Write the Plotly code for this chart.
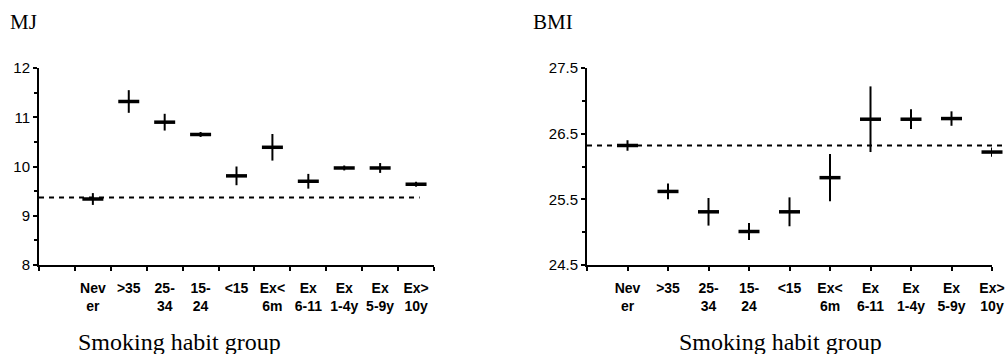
import plotly.graph_objects as go

# Smoking habit groups (shared by both panels)
groups = ["Nev<br>er", ">35", "25-<br>34", "15-<br>24", "<15", "Ex<<br>6m",
          "Ex<br>6-11", "Ex<br>1-4y", "Ex<br>5-9y", "Ex><br>10y"]

# Energy intake (MJ): mean and half-width of the interval
mj_mean = [9.34, 11.32, 10.90, 10.65, 9.81, 10.39, 9.70, 9.97, 9.97, 9.64]
mj_err = [0.12, 0.23, 0.17, 0.05, 0.19, 0.27, 0.15, 0.05, 0.10, 0.05]
mj_ref = 9.37

# Body mass index: mean and half-width of the interval
bmi_mean = [26.32, 25.62, 25.31, 25.01, 25.31, 25.83, 26.72, 26.72, 26.73, 26.22]
bmi_err = [0.08, 0.12, 0.21, 0.13, 0.22, 0.36, 0.50, 0.15, 0.11, 0.07]
bmi_ref = 26.32

pos = list(range(1, len(groups) + 1))

fig = go.Figure()

def add_panel(mean, err, xa, ya):
    fig.add_trace(go.Scatter(
        x=pos, y=mean, mode="markers", xaxis=xa, yaxis=ya, cliponaxis=False,
        marker=dict(symbol="line-ew", size=15, color="black",
                    line=dict(color="black", width=3.5)),
        error_y=dict(type="data", array=err, visible=True,
                     color="black", thickness=2, width=0),
        showlegend=False, hoverinfo="skip"))

add_panel(mj_mean, mj_err, "x", "y")
add_panel(bmi_mean, bmi_err, "x2", "y2")

y_dom = [(354 - 265) / 354, (354 - 68) / 354]
tick_font = dict(family="Arial, Liberation Sans", size=15, color="black")
lab_font = dict(family="Arial, Liberation Sans", size=14, color="black")
bold = ["<b>" + g + "</b>" for g in groups]

common = dict(showline=True, linecolor="black", linewidth=2, showgrid=False,
              zeroline=False, fixedrange=True, automargin=False)

fig.update_layout(
    width=1007, height=354,
    margin=dict(l=0, r=0, t=0, b=0),
    paper_bgcolor="white", plot_bgcolor="white",
    # Left panel: groups sit between the tick marks
    xaxis=dict(domain=[39 / 1007, 434 / 1007], range=[-0.5, 10.5],
               tickvals=pos, ticktext=bold, ticks="", tickfont=lab_font,
               ticklabelstandoff=9,
               minor=dict(tick0=0.5, dtick=1, ticks="outside", ticklen=4,
                          tickcolor="black", tickwidth=1.5),
               **common),
    yaxis=dict(domain=y_dom, range=[8, 12], dtick=1, tickfont=tick_font,
               ticks="outside", ticklen=4, tickwidth=1.5, tickcolor="black",
               minor=dict(dtick=0.5, ticks="outside", ticklen=3,
                          tickcolor="black", tickwidth=1.5),
               **common),
    # Right panel: groups sit on the tick marks
    xaxis2=dict(domain=[587 / 1007, 992 / 1007], range=[0, 10],
                tickvals=[0] + pos, ticktext=[""] + bold, tickfont=lab_font,
                ticks="outside", ticklen=4, tickwidth=1.5, tickcolor="black",
                ticklabelstandoff=5, anchor="y2", **common),
    yaxis2=dict(domain=y_dom, range=[24.5, 27.5], dtick=1, tick0=24.5,
                tickformat=".1f", tickfont=tick_font,
                ticks="outside", ticklen=4, tickwidth=1.5, tickcolor="black",
                minor=dict(dtick=0.5, tick0=24.5, ticks="outside", ticklen=3,
                           tickcolor="black", tickwidth=1.5),
                anchor="x2", **common),
)

# Reference levels (never smokers)
fig.add_shape(type="line", xref="x", yref="y", x0=-0.5, x1=10.1,
              y0=mj_ref, y1=mj_ref,
              line=dict(color="black", width=2, dash="5px,5px"))
fig.add_shape(type="line", xref="paper", yref="y2", x0=587 / 1007, x1=1005 / 1007,
              y0=bmi_ref, y1=bmi_ref,
              line=dict(color="black", width=2, dash="5px,5px"))

serif = dict(family="Times New Roman, Liberation Serif", size=21, color="black")
serif_big = dict(family="Times New Roman, Liberation Serif", size=24, color="black")
fig.add_annotation(text="MJ", xref="paper", yref="paper", x=8 / 1007, y=(354 - 22) / 354,
                   xanchor="left", yanchor="middle", showarrow=False, font=serif)
fig.add_annotation(text="BMI", xref="paper", yref="paper", x=531 / 1007, y=(354 - 22) / 354,
                   xanchor="left", yanchor="middle", showarrow=False, font=serif)
fig.add_annotation(text="Smoking habit group", xref="paper", yref="paper",
                   x=179 / 1007, y=(354 - 342) / 354, xanchor="center", yanchor="middle",
                   showarrow=False, font=serif_big)
fig.add_annotation(text="Smoking habit group", xref="paper", yref="paper",
                   x=780 / 1007, y=(354 - 342) / 354, xanchor="center", yanchor="middle",
                   showarrow=False, font=serif_big)

fig.write_html("out.html")
